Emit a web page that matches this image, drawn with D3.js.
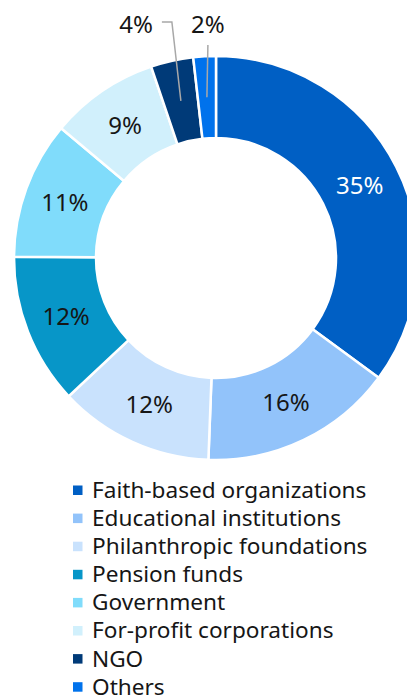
<!DOCTYPE html>
<html>
<head>
<meta charset="utf-8">
<script src="https://cdn.jsdelivr.net/npm/d3@7"></script>
<style>
  html, body { margin: 0; padding: 0; background: #fff; }
  svg { display: block; font-family: "Noto Sans", sans-serif; }
</style>
</head>
<body>
<svg width="407" height="695"></svg>
<script>
const categories = ['Faith-based organizations', 'Educational institutions', 'Philanthropic foundations',
  'Pension funds', 'Government', 'For-profit corporations', 'NGO', 'Others']
const shares = [35.1, 15.5, 12.4, 12.1, 11.0, 8.7, 3.4, 1.8]
const labels = ['35%', '16%', '12%', '12%', '11%', '9%', '4%', '2%']
const colors = ['#005fc4', '#92c3fa', '#c9e2fd', '#0796c8', '#80dcfb', '#d1f0fc', '#003a78', '#0072ec']
const labelColors = ['#fff', '#161616', '#161616', '#161616', '#161616', '#161616', '#161616', '#161616']
// the two thin slices get their labels pulled out above the ring
const outside = ['NGO', 'Others']

const data = categories.map((name, i) => ({
  name, value: shares[i], label: labels[i], color: colors[i], text: labelColors[i]
}))

const svg = d3.select('svg')
const cx = 216, cy = 258
const outerR = 202, innerR = 120

const pie = d3.pie().sort(null).value(d => d.value)
const arc = d3.arc().innerRadius(innerR).outerRadius(outerR)
const mid = d3.arc().innerRadius(161).outerRadius(161)

const g = svg.append('g').attr('transform', `translate(${cx},${cy})`)
const arcs = pie(data)

g.selectAll('path.slice')
  .data(arcs)
  .join('path')
  .attr('class', 'slice')
  .attr('d', arc)
  .attr('fill', d => d.data.color)
  .attr('stroke', '#fff')
  .attr('stroke-width', 2.5)

g.selectAll('text.inside')
  .data(arcs.filter(d => !outside.includes(d.data.name)))
  .join('text')
  .attr('class', 'inside')
  .attr('transform', d => `translate(${mid.centroid(d)})`)
  .attr('text-anchor', 'middle')
  .attr('dy', '0.35em')
  .attr('font-size', 24)
  .attr('fill', d => d.data.text)
  .text(d => d.data.label)

// leader lines + outside labels
const labelY = -outerR - 31
arcs.filter(d => outside.includes(d.data.name)).forEach(d => {
  const [px, py] = mid.centroid(d)
  const elbow = d.data.name === 'NGO'
  const pts = elbow
    ? [[px, py], [px - 9, labelY - 3], [px - 19, labelY - 3]]
    : [[px, py], [px + 1, -outerR - 11]]
  g.append('path')
    .attr('d', d3.line()(pts))
    .attr('fill', 'none')
    .attr('stroke', '#a8a8a8')
    .attr('stroke-width', 1.5)
  g.append('text')
    .attr('x', elbow ? px - 28 : px + 1)
    .attr('y', labelY)
    .attr('text-anchor', elbow ? 'end' : 'middle')
    .attr('dy', '0.35em')
    .attr('font-size', 24)
    .attr('fill', '#161616')
    .text(d.data.label)
})

const legend = svg.append('g').attr('transform', 'translate(73,490)')
const rowY = d3.scaleBand().domain(categories).range([0, 28.1 * categories.length])

const row = legend.selectAll('g')
  .data(data)
  .join('g')
  .attr('transform', d => `translate(0,${rowY(d.name)})`)

row.append('rect')
  .attr('y', -4.5)
  .attr('width', 9.5)
  .attr('height', 9.5)
  .attr('fill', d => d.color)

row.append('text')
  .attr('x', 19)
  .attr('dy', '0.35em')
  .attr('font-size', 22.6)
  .attr('fill', '#161616')
  .text(d => d.name)
</script>
</body>
</html>
